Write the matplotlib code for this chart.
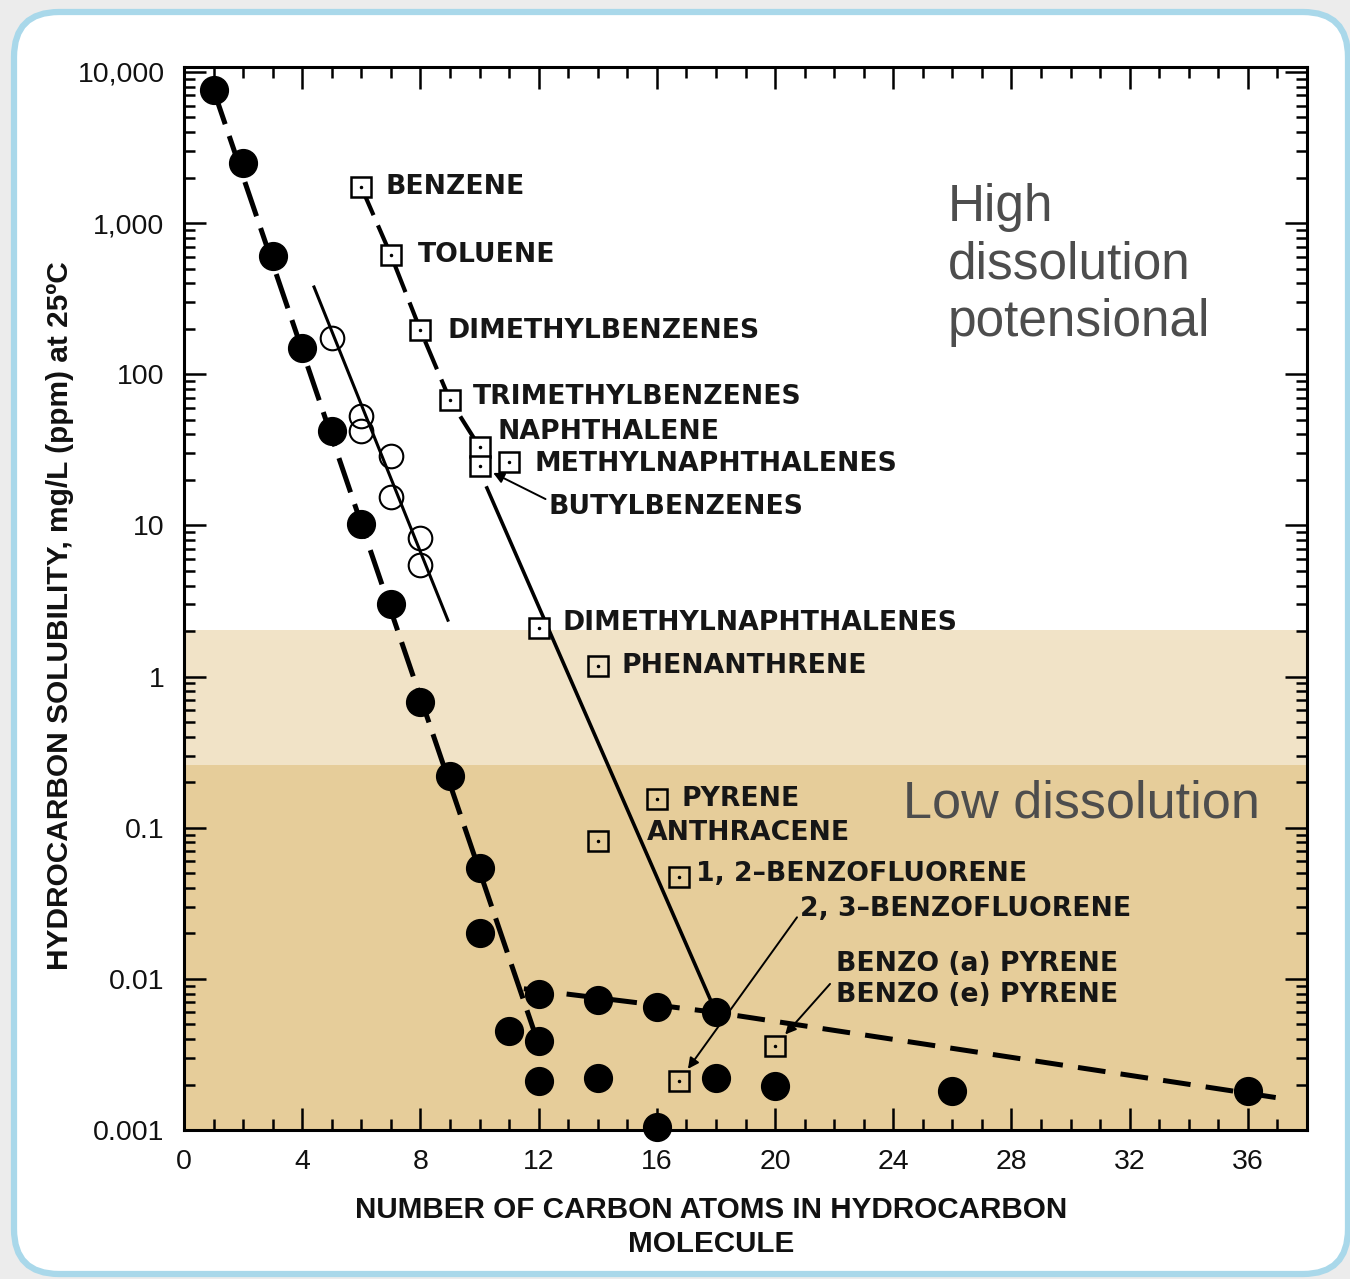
"""
hydrocarbon solubility in water vs number of carbon atoms
(redrawn from the scanned figure, values read off the log scale)
"""
import matplotlib
matplotlib.use('Agg')
import matplotlib.pyplot as plt
from matplotlib.patches import FancyBboxPatch
from matplotlib.transforms import IdentityTransform
from matplotlib.ticker import MultipleLocator, LogLocator, NullFormatter

plt.rcParams['lines.scale_dashes'] = False

# n-paraffins (filled circles), mg/L at 25 C
paraffin_c = [1, 2, 3, 4, 5, 6, 7, 8, 9, 10, 10, 11, 12, 12, 12, 14, 14, 16, 16, 18, 18, 20, 26, 36]
paraffin_s = [7600, 2500, 610, 150, 42, 10.2, 3.0, 0.68, 0.22, 0.054, 0.020, 0.0045,
              0.0080, 0.0039, 0.0021, 0.0072, 0.0022, 0.0065, 0.00105, 0.0060, 0.0022,
              0.00195, 0.0018, 0.0018]

# cycloparaffins (open circles)
cyclo_c = [5, 6, 6, 7, 7, 8, 8]
cyclo_s = [175, 53, 42, 29, 15.5, 8.2, 5.5]

# aromatics (squares)
arom_names = ['BENZENE', 'TOLUENE', 'DIMETHYLBENZENES', 'TRIMETHYLBENZENES', 'NAPHTHALENE',
              'BUTYLBENZENES', 'METHYLNAPHTHALENES', 'DIMETHYLNAPHTHALENES', 'PHENANTHRENE',
              'PYRENE', 'ANTHRACENE', '1, 2\u2013BENZOFLUORENE', '2, 3\u2013BENZOFLUORENE',
              'BENZO (a) PYRENE\nBENZO (e) PYRENE']
arom_c = [6, 7, 8, 9, 10, 10, 11, 12, 14, 16, 14, 16.75, 16.75, 20]
arom_s = [1730, 615, 196, 67.5, 33, 24.7, 26.2, 2.1, 1.18, 0.155, 0.082, 0.047, 0.0021, 0.0036]

# trend lines
paraffin_line1_c = [1, 11.9]
paraffin_line1_s = [7600, 0.0042]
paraffin_line2_c = [11.5, 18, 37.3]
paraffin_line2_s = [0.0086, 0.0060, 0.0016]
cyclo_line_c = [4.4, 8.93]
cyclo_line_s = [378, 2.36]
arom_line2_c = [10.25, 18]
arom_line2_s = [17.7, 0.0060]

# dissolution bands
band_top = 2.03
band_mid = 0.26

ytick_vals = [0.001, 0.01, 0.1, 1, 10, 100, 1000, 10000]
ytick_labels = ['0.001', '0.01', '0.1', '1', '10', '100', '1,000', '10,000']
xtick_vals = [0, 4, 8, 12, 16, 20, 24, 28, 32, 36]

light_band = '#f1e3c7'
dark_band = '#e6cd9a'

W, H = 1350, 1279
fig = plt.figure(figsize=(W / 100, H / 100), dpi=100)
fig.patch.set_facecolor('#ececec')
box = FancyBboxPatch((14, 5), 1334, 1262, boxstyle='round,pad=0,rounding_size=45',
                     transform=IdentityTransform(), fc='white', ec='#a9d8ea', lw=4.5, zorder=-10)
fig.add_artist(box)

ax = fig.add_axes([184 / W, 1 - 1130 / H, (1307 - 184) / W, (1130 - 67) / H])
ax.set_facecolor('white')
ax.set_yscale('log')
ax.set_xlim(0, 38)
ax.set_ylim(0.001, 10 ** 4.033)

ax.axhspan(band_mid, band_top, color=light_band, lw=0, zorder=0)
ax.axhspan(0.0001, band_mid, color=dark_band, lw=0, zorder=0)

# lines
ax.plot(paraffin_line1_c, paraffin_line1_s, color='black', lw=3.6, dashes=(26, 9), zorder=3)
ax.plot(paraffin_line2_c, paraffin_line2_s, color='black', lw=3.6, dashes=(20, 11), zorder=3)
ax.plot(cyclo_line_c, cyclo_line_s, color='black', lw=2.2, zorder=3)
ax.plot(arom_c[:5], arom_s[:5], color='black', lw=3.0, dashes=(22, 8), zorder=3)
ax.plot(arom_line2_c, arom_line2_s, color='black', lw=2.6, zorder=3)

# markers
ax.plot(paraffin_c, paraffin_s, 'o', color='black', ms=20, zorder=6, clip_on=False)
ax.plot(cyclo_c, cyclo_s, 'o', mfc='none', mec='black', mew=1.5, ms=17, zorder=5)
for c, s in zip(arom_c, arom_s):
    if s > band_top:
        fc = 'white'
    elif s > band_mid:
        fc = light_band
    else:
        fc = dark_band
    ax.plot(c, s, 's', mfc=fc, mec='black', mew=1.8, ms=14, zorder=5)
    ax.plot(c, s, '.', color='black', ms=3, zorder=5)

# labels next to the squares (offset in pixels: right, up)
label_dx = [24, 27, 27, 23, 18, 69, 25, 24, 24, 25, 49, 17, 121, 61]
label_dy = [0, 0, -1, 3, 15, -41, -2, 5, 0, 0, 8, 3, 172, 66]
for name, c, s, dx, dy in zip(arom_names, arom_c, arom_s, label_dx, label_dy):
    ax.annotate(name, xy=(c, s), xytext=(dx, dy), textcoords='offset pixels',
                ha='left', va='center', fontsize=19.2, family='DejaVu Sans',
                weight='bold', color='#161616', linespacing=1.25, zorder=7)

# arrows
arrow_kw = dict(arrowstyle='-|>', color='black', lw=1.4, mutation_scale=16,
                shrinkA=0, shrinkB=11)
ax.annotate('', xy=(10, 24.7), xytext=(66, -33), textcoords='offset pixels',
            arrowprops=arrow_kw, zorder=4)
ax.annotate('', xy=(16.75, 0.0021), xytext=(118, 164), textcoords='offset pixels',
            arrowprops=arrow_kw, zorder=4)
ax.annotate('', xy=(20, 0.0036), xytext=(55, 62), textcoords='offset pixels',
            arrowprops=arrow_kw, zorder=4)

# axes styling
for sp in ax.spines.values():
    sp.set_linewidth(2.2)
ax.set_xticks(xtick_vals)
ax.xaxis.set_minor_locator(MultipleLocator(1))
ax.set_yticks(ytick_vals)
ax.set_yticklabels(ytick_labels)
ax.yaxis.set_minor_locator(LogLocator(base=10, subs=range(2, 10), numticks=20))
ax.yaxis.set_minor_formatter(NullFormatter())
ax.tick_params(which='both', direction='in', top=True, right=True, width=1.8)
ax.tick_params(which='major', length=16, pad=14, labelsize=20.5)
ax.tick_params(which='minor', length=8)
for lab in ax.get_xticklabels() + ax.get_yticklabels():
    lab.set_family('Liberation Sans')
    lab.set_color('#111111')
ax.set_ylim(0.001, 10 ** 4.033)

# axis titles
fig.text(60 / W, 1 - 616 / H, 'HYDROCARBON SOLUBILITY, mg/L (ppm) at 25\u00baC',
         rotation=90, ha='center', va='center', fontsize=21.5, weight='bold',
         family='Liberation Sans', color='#111111')
fig.text(711 / W, 1 - 1227 / H, 'NUMBER OF CARBON ATOMS IN HYDROCARBON\nMOLECULE',
         ha='center', va='center', multialignment='center', fontsize=21.3, weight='bold',
         family='Liberation Sans', linespacing=1.3, color='#111111')

# region notes
fig.text(948 / W, 1 - 183 / H, 'High\ndissolution\npotensional', ha='left', va='top',
         fontsize=37, family='Liberation Sans', color='#4d4d4d', linespacing=1.22)
fig.text(903 / W, 1 - 817 / H, 'Low dissolution', ha='left', va='baseline',
         fontsize=37.5, family='Liberation Sans', color='#4d4d4d')

fig.savefig('out.png', dpi=100, facecolor=fig.get_facecolor())
